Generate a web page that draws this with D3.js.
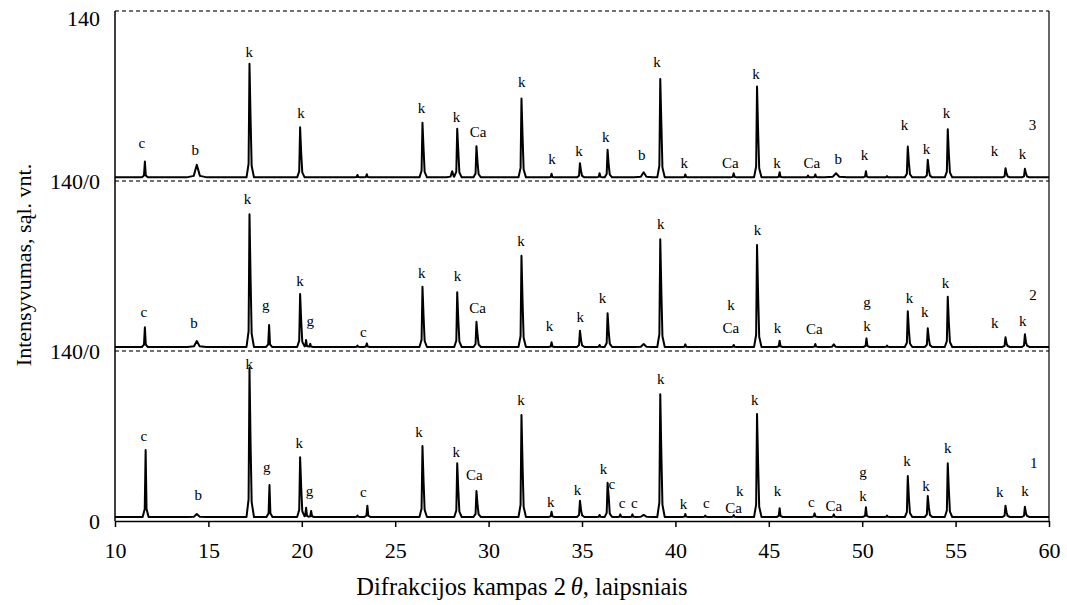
<!DOCTYPE html>
<html>
<head>
<meta charset="utf-8">
<script src="https://cdn.jsdelivr.net/npm/d3@7"></script>
<style>
  body { margin: 0; background: #fff; }
  svg text { font-family: "Liberation Serif", "Times New Roman", serif; fill: #000; }
</style>
</head>
<body>
<div id="chart"></div>
<script>
// kreives: [2theta, virsune, Ka2 petys, pusplotis]
const peaks1 = [
  [11.64, 58.5], [14.38, 5.8, 0, 0.5], [17.2, 126, 62], [18.27, 29.6], [19.91, 52.5, 27],
  [20.23, 11], [20.5, 8.2], [22.98, 4.5], [23.51, 12.6], [26.46, 61.8, 32],
  [28.32, 47.5, 25], [29.35, 24.7, 13], [31.76, 87.3, 45], [33.37, 7.7], [34.89, 16.7, 9],
  [35.94, 5], [36.37, 31.5, 20], [37.05, 5.5], [37.7, 5.5], [38.3, 5, 0, 0.5],
  [39.19, 104.3, 54], [40.53, 5.8], [41.6, 4.5], [43.12, 4.8], [44.37, 88.1, 46],
  [45.58, 10.5], [47.45, 6.3], [48.48, 5.5], [50.2, 11.3], [51.33, 4.5],
  [52.44, 37, 19], [53.51, 20.6, 11], [54.58, 47.5, 25], [57.67, 12.6, 7], [58.71, 11.8, 6]
];
const peaks2 = [
  [11.6, 19.5], [14.38, 8.2, 0, 0.5], [17.2, 112.6, 58], [18.25, 21.4], [19.91, 47, 24],
  [20.23, 9], [20.45, 6], [22.98, 4.4], [23.48, 6.3], [26.46, 53, 28],
  [28.32, 48.3, 25], [29.35, 24.1, 13], [31.76, 78.5, 40], [33.37, 7.2], [34.89, 16.7, 9],
  [35.94, 5], [36.37, 31, 16], [38.3, 5.7, 0, 0.5], [39.19, 92, 48], [40.53, 5.5],
  [43.12, 5], [44.37, 87.3, 45], [45.58, 8.5], [47.49, 5.8], [48.48, 5.5, 0, 0.3],
  [50.23, 10.4], [51.33, 4.4], [52.44, 32.7, 17], [53.51, 18.7, 10], [54.58, 44.7, 23],
  [57.67, 11.3, 6], [58.71, 13.8, 7]
];
const peaks3 = [
  [11.6, 16], [14.38, 13.3, 0, 0.55], [17.2, 96.5, 50], [19.91, 44.3, 22], [22.98, 5],
  [23.48, 5.5], [26.46, 48, 26], [28.05, 8, 0, 0.3], [28.32, 43, 24], [29.35, 28.7, 15],
  [31.76, 68, 36], [33.37, 6], [34.89, 14.7, 8], [35.94, 6.4], [36.37, 25.7, 13],
  [38.3, 7.2, 0, 0.5], [39.19, 84, 46], [40.53, 5.4], [43.12, 6.4], [44.37, 77.8, 40],
  [45.58, 7.2], [47.1, 4.5], [47.49, 5.4], [48.6, 6.4, 0, 0.6], [50.2, 8],
  [51.33, 4], [52.44, 28.4, 15], [53.51, 17.5, 9], [54.58, 42.7, 22], [57.67, 10.5, 6],
  [58.71, 10, 6]
];
const baseLevels = [3.3, 3.3, 3];
const offsets = [0, 140, 280];

// fazių žymės: [2theta, intensyvumas, tekstas]
const labels1 = [
  [11.55, 66, "c"], [14.46, 17, "b"], [17.19, 125, "k"], [18.12, 40.4, "g"], [19.86, 59.9, "k"],
  [20.41, 20.6, "g"], [23.3, 20, "c"], [26.28, 69.4, "k"], [28.27, 53, "k"], [29.23, 33.8, "Ca"],
  [31.73, 95.5, "k"], [33.33, 11.3, "k"], [34.76, 21.4, "k"], [36.15, 38.7, "k"], [36.6, 26.4, "c"],
  [37.14, 10.7, "c"], [37.8, 10.7, "c"], [39.22, 112.6, "k"], [40.44, 9.6, "k"], [41.65, 10.5, "c"],
  [43.44, 20.6, "k"], [43.12, 6.3, "Ca"], [44.25, 95.5, "k"], [45.47, 20.6, "k"], [47.28, 11.8, "c"],
  [48.48, 8.5, "Ca"], [50.04, 36.2, "g"], [50.04, 16.5, "k"], [52.4, 45.5, "k"], [53.42, 24.7, "k"],
  [54.58, 55.8, "k"], [57.37, 20, "k"], [58.71, 20.8, "k"], [59.19, 43.4, "1"]
];
const labels2 = [
  [11.55, 27.7, "c"], [14.23, 19.2, "b"], [17.09, 120.8, "k"], [18.07, 34, "g"], [19.91, 53.5, "k"],
  [20.45, 20.6, "g"], [23.3, 11.8, "c"], [26.42, 60.4, "k"], [28.34, 57.6, "k"], [29.41, 31, "Ca"],
  [31.73, 86.5, "k"], [33.26, 16.7, "k"], [34.9, 24.1, "k"], [36.1, 39.8, "k"], [39.22, 100.2, "k"],
  [42.97, 33.8, "k"], [42.97, 15.1, "Ca"], [44.4, 95.5, "k"], [45.47, 14.6, "k"], [47.44, 13.8, "Ca"],
  [50.26, 36.2, "g"], [50.26, 16.5, "k"], [52.53, 39.3, "k"], [53.35, 28.2, "k"], [54.46, 51.6, "k"],
  [57.1, 18.7, "k"], [58.6, 20.8, "k"], [59.15, 42, "2"]
];
const labels3 = [
  [11.43, 27.5, "c"], [14.29, 21.8, "b"], [17.19, 102.5, "k"], [19.96, 51.5, "k"], [26.41, 55.6, "k"],
  [28.28, 49, "k"], [29.44, 36.6, "Ca"], [31.78, 77.8, "k"], [33.4, 14.4, "k"], [34.84, 21, "k"],
  [36.27, 32.5, "k"], [38.2, 16.9, "b"], [39.01, 93.5, "k"], [40.48, 11.1, "k"], [42.94, 11.1, "Ca"],
  [44.32, 83.6, "k"], [45.44, 11.1, "k"], [47.31, 10.3, "Ca"], [48.72, 13.6, "b"], [50.12, 17.7, "k"],
  [52.26, 41.6, "k"], [53.44, 22.6, "k"], [54.51, 51.5, "k"], [57.08, 21, "k"], [58.58, 18.5, "k"],
  [59.12, 41.6, "3"]
];

const xTicks = [10, 15, 20, 25, 30, 35, 40, 45, 50, 55, 60];
const yTicks = [0, 140, 280, 420];
const yTickLabels = ["0", "140/0", "140/0", "140"];

const width = 1067, height = 605;
const margin = { left: 115, right: 18, top: 11, bottom: 84 };

const svg = d3.select("#chart").append("svg")
  .attr("width", width)
  .attr("height", height);

const x = d3.scaleLinear().domain([10, 60]).range([margin.left, width - margin.right]);
const y = d3.scaleLinear().domain([0, 420]).range([height - margin.bottom, margin.top]);

// smailės viršūnių taškai (santykinis aukštis)
function peakShape([p, top, sh = 0, w = 0.16], base) {
  const h = top - base;
  const pts = [[p - w, 0], [p - w * 0.3, h * 0.12], [p, h]];
  if (sh > 0) {
    pts.push([p + 0.06, sh - base], [p + 0.06 + w * 0.35, h * 0.1], [p + w + 0.08, 0]);
  } else {
    pts.push([p + w * 0.3, h * 0.12], [p + w, 0]);
  }
  return pts;
}

function valueAt(pts, t) {
  if (t <= pts[0][0] || t >= pts[pts.length - 1][0]) return 0;
  for (let i = 1; i < pts.length; i++) {
    if (t <= pts[i][0]) {
      const [x0, y0] = pts[i - 1], [x1, y1] = pts[i];
      return y0 + (y1 - y0) * (t - x0) / (x1 - x0);
    }
  }
  return 0;
}

function buildTrace(peaks, base) {
  const shapes = peaks.map(p => peakShape(p, base));
  const xs = [10, 60].concat(shapes.flat().map(d => d[0])).sort((a, b) => a - b);
  return xs.map(t => [t, base + d3.max(shapes, s => valueAt(s, t))]);
}

// punktyrinės linijos
svg.selectAll("line.dash")
  .data(yTicks.slice(1))
  .enter().append("line")
  .attr("class", "dash")
  .attr("x1", x(10)).attr("x2", x(60))
  .attr("y1", d => y(d)).attr("y2", d => y(d))
  .attr("stroke", "#444")
  .attr("stroke-width", 1.3)
  .attr("stroke-dasharray", "4,3");

const line = d3.line().x(d => x(d[0])).y(d => y(d[1]));

const traces = [peaks1, peaks2, peaks3];
const allLabels = [labels1, labels2, labels3];

traces.forEach((peaks, i) => {
  const pts = buildTrace(peaks, baseLevels[i]).map(d => [d[0], d[1] + offsets[i]]);
  svg.append("path")
    .datum(pts)
    .attr("d", line)
    .attr("fill", "none")
    .attr("stroke", "#000")
    .attr("stroke-width", 2)
    .attr("stroke-linejoin", "round");

  svg.append("g").selectAll("text")
    .data(allLabels[i])
    .enter().append("text")
    .attr("x", d => x(d[0]))
    .attr("y", d => y(d[1] + offsets[i]))
    .attr("text-anchor", "middle")
    .style("font-size", "15px")
    .text(d => d[2]);
});

// ašys
svg.append("line")
  .attr("x1", x(10)).attr("x2", x(10))
  .attr("y1", y(420)).attr("y2", y(0))
  .attr("stroke", "#000").attr("stroke-width", 1.5);
svg.append("line")
  .attr("x1", x(60)).attr("x2", x(60))
  .attr("y1", y(420)).attr("y2", y(0))
  .attr("stroke", "#000").attr("stroke-width", 1.2);

const xAxis = svg.append("g")
  .attr("transform", "translate(0," + y(0) + ")")
  .call(d3.axisBottom(x).tickValues(xTicks).tickSize(6).tickSizeOuter(0).tickPadding(15));
xAxis.select(".domain").attr("stroke-width", 1.5);
xAxis.selectAll(".tick line").attr("stroke-width", 1.5);
xAxis.selectAll("text").style("font-size", "22px").attr("font-family", null);

svg.append("g").selectAll("text")
  .data(yTicks)
  .enter().append("text")
  .attr("x", x(10) - 15)
  .attr("y", d => Math.max(y(d), 18))
  .attr("dy", "0.35em")
  .attr("text-anchor", "end")
  .style("font-size", "22px")
  .text((d, i) => yTickLabels[i]);

svg.append("text")
  .attr("transform", "translate(31," + ((y(0) + y(420)) / 2 - 1) + ") rotate(-90)")
  .attr("text-anchor", "middle")
  .style("font-size", "22px")
  .text("Intensyvumas, sąl. vnt.");

const xTitle = svg.append("text")
  .attr("x", 522)
  .attr("y", 595)
  .attr("text-anchor", "middle")
  .style("font-size", "24.5px");
xTitle.append("tspan").text("Difrakcijos kampas 2\u2009");
xTitle.append("tspan").style("font-style", "italic").text("θ");
xTitle.append("tspan").text(", laipsniais");
</script>
</body>
</html>
